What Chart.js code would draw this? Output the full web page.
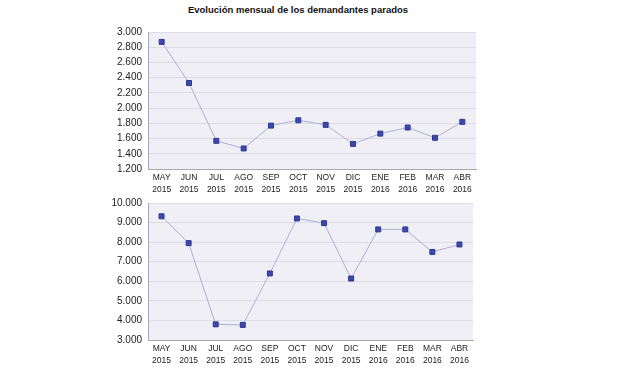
<!DOCTYPE html>
<html>
<head>
<meta charset="utf-8">
<script src="https://cdn.jsdelivr.net/npm/chart.js@4"></script>
<style>
  body { margin: 0; background: #fff; width: 620px; height: 368px; position: relative; overflow: hidden; }
  .title { position: absolute; left: 0; width: 596px; top: 4px; text-align: center;
           font: bold 9.5px "Liberation Sans", Arial, sans-serif; color: #111; }
  .box { position: absolute; left: 0; width: 620px; }
</style>
</head>
<body>
<div class="title">Evolución mensual de los demandantes parados</div>
<div class="box" style="top:0;height:200px"><canvas id="myChart1"></canvas></div>
<div class="box" style="top:170px;height:198px"><canvas id="myChart2"></canvas></div>
<script>
const months = [['MAY','2015'],['JUN','2015'],['JUL','2015'],['AGO','2015'],['SEP','2015'],['OCT','2015'],
                ['NOV','2015'],['DIC','2015'],['ENE','2016'],['FEB','2016'],['MAR','2016'],['ABR','2016']];
const serie1 = [2870, 2330, 1570, 1470, 1770, 1840, 1780, 1530, 1665, 1745, 1610, 1820];
const serie2 = [9320, 7950, 3800, 3770, 6400, 9210, 8970, 6140, 8650, 8650, 7500, 7880];

const plotBg = {
  id: 'plotBg',
  beforeDraw(chart) {
    const a = chart.chartArea, g = chart.ctx;
    g.save();
    g.fillStyle = '#f0eff5';
    g.fillRect(a.left, a.top, a.right - a.left, a.bottom - a.top);
    g.restore();
  }
};

function fmt(v) {
  return v.toLocaleString('de-DE', { minimumFractionDigits: 0 });
}

function makeChart(id, data, min, max, step, pad) {
  return new Chart(document.getElementById(id), {
    type: 'line',
    data: {
      labels: months,
      datasets: [{
        data: data,
        borderColor: '#aeb0d4',
        borderWidth: 1,
        pointStyle: 'rect',
        pointRadius: 3.5,
        pointBackgroundColor: '#3b48ad',
        pointBorderColor: '#2c3790',
        pointBorderWidth: 1,
        tension: 0
      }]
    },
    options: {
      maintainAspectRatio: false,
      animation: false,
      events: [],
      layout: { padding: pad },
      plugins: { legend: { display: false }, tooltip: { enabled: false } },
      scales: {
        x: {
          offset: true,
          grid: { display: false, drawTicks: false },
          border: { color: '#a8a8b0' },
          ticks: { color: '#222', padding: 3, maxRotation: 0, autoSkip: false,
                   font: { family: 'Liberation Sans', size: 8.5, lineHeight: 1.4 } },
          afterFit(s) { s.height = pad.xh; }
        },
        y: {
          min: min, max: max,
          grid: { color: '#dddce6', drawTicks: false },
          border: { color: '#a8a8b0' },
          ticks: { stepSize: step, color: '#222', padding: 6,
                   font: { family: 'Liberation Sans', size: 10 },
                   callback: v => fmt(v) },
          afterFit(s) { s.width = 40; }
        }
      }
    },
    plugins: [plotBg]
  });
}

makeChart('myChart1', serie1, 1200, 3000, 200, { left: 108, right: 144, top: 32, bottom: 0, xh: 31 });
makeChart('myChart2', serie2, 3000, 10000, 1000, { left: 108, right: 147, top: 33, bottom: 0, xh: 28 });
</script>
</body>
</html>
